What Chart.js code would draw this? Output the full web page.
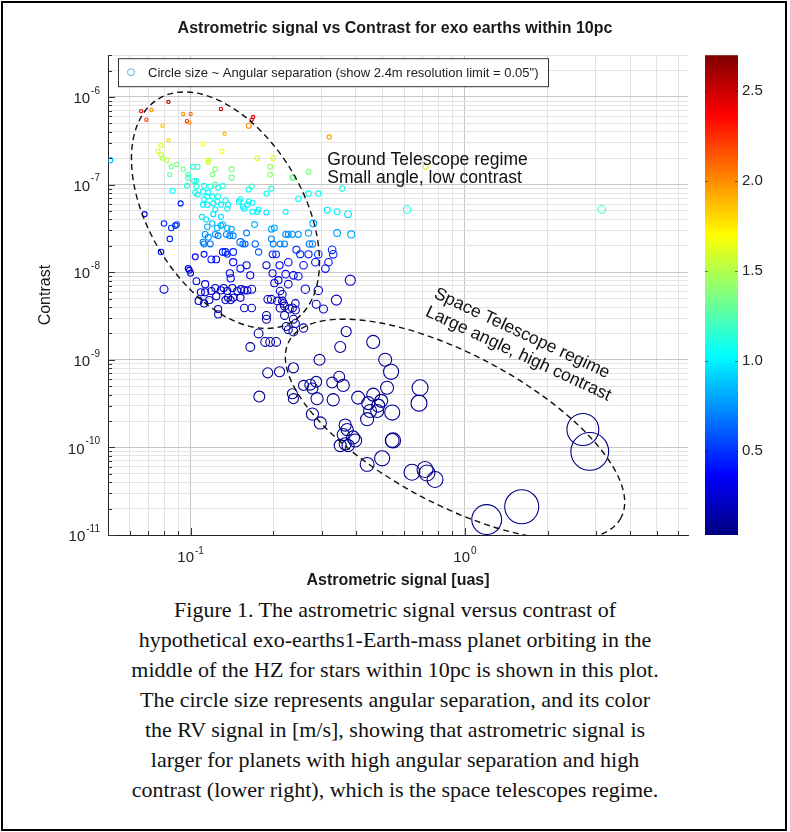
<!DOCTYPE html>
<html>
<head>
<meta charset="utf-8">
<script src="https://cdn.jsdelivr.net/npm/chart.js@4"></script>
<style>
  body { margin: 0; background: #fff; }
  #wrap { position: relative; width: 790px; height: 832px; }
  #plot { position: absolute; left: 0; top: 0; }
  #caption { position: absolute; left: 0; top: 595px; width: 790px; text-align: center;
    font: 22px "Liberation Serif", "Times New Roman", serif; line-height: 30px; color: #111; }
  #frame { position: absolute; left: 1px; top: 1px; width: 782px; height: 826px;
    border: 2px solid #000; pointer-events: none; }
</style>
</head>
<body>
<div id="wrap">
  <canvas id="plot" width="790" height="595"></canvas>
  <div id="caption">Figure 1. The astrometric signal versus contrast of<br>hypothetical exo-earths1-Earth-mass planet orbiting in the<br>middle of the HZ for stars within 10pc is shown in this plot.<br>The circle size represents angular separation, and its color<br>the RV signal in [m/s], showing that astrometric signal is<br>larger for planets with high angular separation and high<br>contrast (lower right), which is the space telescopes regime.</div>
  <div id="frame"></div>
</div>
<script>
// one entry per exo-earth: astrometric signal [uas], contrast, RV signal [m/s], angular separation [arcsec]
var signal = [
  0.066, 0.069, 0.072, 0.083, 0.094, 0.100, 0.097, 0.099, 0.129, 0.169, 0.167, 0.163, 0.133, 0.079, 0.083, 0.32,
  0.111, 0.078, 0.076, 0.078, 0.130, 0.079, 0.082, 0.116, 0.116, 0.175, 0.200, 0.195, 0.195, 0.085, 0.089, 0.094, 0.084, 0.098, 0.120, 0.123, 0.141, 0.141, 0.235, 0.269, 0.72, 0.051,
  0.102, 0.106, 0.098, 0.103, 0.105, 0.097, 0.105, 0.112, 0.118, 0.123,
  0.126, 0.131, 0.167, 0.163, 0.197, 0.189, 0.086, 0.104, 0.111, 0.116,
  0.106, 0.115, 0.120, 0.126, 0.152, 0.163, 0.112, 0.111, 0.115, 0.121,
  0.125, 0.129, 0.134, 0.137, 0.136, 0.150, 0.155, 0.161, 0.168, 0.175,
  0.189, 0.110, 0.114, 0.121, 0.123, 0.157, 0.168, 0.177,
  0.237, 0.247, 0.269, 0.292, 0.357, 0.222, 0.315, 0.342, 0.375, 0.615, 3.15,
  0.092, 0.068, 0.080, 0.085, 0.088, 0.089, 0.084, 0.078, 0.115, 0.120,
  0.125, 0.129, 0.131, 0.136, 0.141, 0.129, 0.171, 0.197, 0.202,
  0.113, 0.116, 0.123, 0.126, 0.135, 0.139, 0.143, 0.111, 0.112, 0.118,
  0.152, 0.155, 0.158, 0.160, 0.172, 0.177, 0.197, 0.200, 0.212, 0.220,
  0.222, 0.227, 0.235, 0.247, 0.269, 0.280, 0.271, 0.278, 0.342, 0.385,
  0.131, 0.134, 0.136, 0.143, 0.104, 0.112, 0.119, 0.124, 0.143, 0.152,
  0.160, 0.098, 0.099, 0.100, 0.139, 0.140, 0.165, 0.105, 0.113, 0.080,
  0.123, 0.129, 0.132, 0.136, 0.142, 0.148, 0.153, 0.157, 0.161, 0.167,
  0.109, 0.113, 0.119, 0.107, 0.112, 0.117, 0.124, 0.134, 0.137, 0.140,
  0.143, 0.152, 0.157, 0.167, 0.126, 0.126, 0.189, 0.189, 0.197, 0.189,
  0.199, 0.202, 0.209, 0.211, 0.227, 0.243, 0.251, 0.258, 0.269, 0.285,
  0.292, 0.318, 0.310, 0.328, 0.331, 0.199, 0.205, 0.222, 0.237, 0.247,
  0.227, 0.382, 0.212, 0.216, 0.262, 0.292, 0.191, 0.207, 0.216, 0.218,
  0.241, 0.287, 0.340, 0.305, 0.212, 0.220, 0.229, 0.235, 0.241, 0.220,
  0.237, 0.241, 0.223, 0.227, 0.258,
  0.237, 0.177, 0.187, 0.195, 0.205, 0.165, 0.369, 0.463, 0.351, 0.295,
  0.512, 0.538, 0.237, 0.211, 0.191, 0.178, 0.235, 0.237, 0.258, 0.273,
  0.278, 0.287, 0.289, 0.328, 0.348, 0.360, 0.331, 0.408, 0.444, 0.463,
  0.483, 0.495, 0.451, 0.440, 0.479, 0.520, 0.543, 0.686, 0.680, 0.278,
  0.297, 0.366, 0.372, 0.360, 0.391, 0.398, 0.351, 0.366, 0.375, 0.547,
  0.543, 0.499, 0.440, 0.641, 0.715, 0.727, 0.778, 2.69, 2.85, 1.61,
  1.20
];
var contrast = [
  6.9e-7, 5.5e-7, 7.1e-7, 8.8e-7, 6.4e-7, 6.4e-7, 5.3e-7, 5.1e-7, 7.3e-7, 5.9e-7, 5.5e-7, 4.7e-7, 3.8e-7, 4.7e-7, 3.2e-7, 3.5e-7,
  2.9e-7, 2.8e-7, 2.4e-7, 2.2e-7, 2.4e-7, 2.0e-7, 1.9e-7, 1.9e-7, 1.8e-7, 2.0e-7, 2.0e-7, 1.6e-7, 1.3e-7, 1.6e-7, 1.7e-7, 1.5e-7, 1.3e-7, 1.3e-7, 1.3e-7, 1.5e-7, 1.5e-7, 1.2e-7, 1.2e-7, 1.4e-7, 1.6e-7, 1.9e-7,
  1.6e-7, 1.6e-7, 1.2e-7, 1.1e-7, 1.1e-7, 9.7e-8, 9.5e-8, 9.7e-8, 9.5e-8, 1.0e-7,
  9.2e-8, 9.7e-8, 9.5e-8, 8.8e-8, 9.0e-8, 7.9e-8, 8.5e-8, 8.1e-8, 8.3e-8, 8.1e-8,
  7.7e-8, 7.3e-8, 7.3e-8, 7.3e-8, 6.8e-8, 6.4e-8, 6.8e-8, 5.9e-8, 5.9e-8, 6.1e-8,
  6.4e-8, 5.9e-8, 6.6e-8, 5.9e-8, 5.3e-8, 6.4e-8, 5.6e-8, 5.9e-8, 6.2e-8, 4.9e-8,
  4.8e-8, 4.3e-8, 4.0e-8, 4.6e-8, 5.2e-8, 5.3e-8, 4.9e-8, 5.2e-8,
  1.2e-7, 6.9e-8, 7.9e-8, 7.9e-8, 9.0e-8, 4.9e-8, 5.1e-8, 4.9e-8, 4.6e-8, 5.2e-8, 5.2e-8,
  6.1e-8, 4.6e-8, 3.6e-8, 3.2e-8, 3.4e-8, 3.5e-8, 2.4e-8, 1.7e-8, 3.3e-8, 3.6e-8,
  3.2e-8, 3.4e-8, 3.5e-8, 3.2e-8, 3.1e-8, 4.3e-8, 3.5e-8, 3.1e-8, 3.2e-8,
  2.7e-8, 2.5e-8, 2.7e-8, 2.6e-8, 2.7e-8, 2.6e-8, 2.6e-8, 2.2e-8, 2.1e-8, 2.1e-8,
  2.2e-8, 2.1e-8, 2.1e-8, 2.8e-8, 2.1e-8, 1.7e-8, 2.4e-8, 2.1e-8, 2.1e-8, 2.1e-8,
  2.7e-8, 2.7e-8, 2.7e-8, 2.7e-8, 2.8e-8, 3.6e-8, 2.1e-8, 2.1e-8, 2.8e-8, 2.7e-8,
  1.7e-8, 1.7e-8, 1.6e-8, 1.7e-8, 1.5e-8, 1.6e-8, 1.4e-8, 1.4e-8, 1.3e-8, 1.1e-8,
  1.2e-8, 1.1e-8, 1.05e-8, 9.7e-9, 9.7e-9, 8.5e-9, 9.2e-9, 7.9e-9, 7.3e-9, 6.4e-9,
  6.6e-9, 6.2e-9, 6.6e-9, 6.1e-9, 6.6e-9, 6.1e-9, 6.4e-9, 6.2e-9, 6.2e-9, 6.4e-9,
  5.9e-9, 5.9e-9, 6.1e-9, 4.7e-9, 4.4e-9, 4.8e-9, 5.3e-9, 4.8e-9, 5.1e-9, 4.8e-9,
  5.1e-9, 5.1e-9, 3.9e-9, 3.9e-9, 3.8e-9, 3.3e-9, 3.2e-9, 2.9e-9, 4.9e-9, 1.2e-8,
  9.7e-9, 7.5e-9, 8.1e-9, 1.2e-8, 1.3e-8, 1.8e-8, 1.6e-8, 1.2e-8, 1.6e-8, 1.3e-8,
  1.6e-8, 1.3e-8, 1.1e-8, 1.8e-8, 1.6e-8, 1.6e-8, 1.6e-8, 9.5e-9, 9.2e-9, 9.0e-9,
  7.3e-9, 8.1e-9, 6.1e-9, 5.6e-9, 6.4e-9, 6.2e-9, 4.9e-9, 4.7e-9, 4.7e-9, 4.4e-9,
  4.4e-9, 4.3e-9, 4.8e-9, 3.8e-9, 3.9e-9, 4.1e-9, 3.8e-9, 3.9e-9, 3.7e-9, 3.2e-9,
  2.9e-9, 2.6e-9, 2.4e-9, 2.2e-9, 2.3e-9,
  2.1e-9, 2.0e-9, 1.6e-9, 1.6e-9, 1.6e-9, 1.4e-9, 2.1e-9, 1.6e-9, 1.4e-9, 1.0e-9,
  1.0e-9, 7.3e-10, 8.1e-10, 7.3e-10, 7.1e-10, 3.8e-10, 4.1e-10, 3.6e-10, 5.1e-10, 5.2e-10,
  4.7e-10, 5.6e-10, 3.6e-10, 5.5e-10, 6.4e-10, 5.1e-10, 3.5e-10, 3.7e-10, 3.2e-10, 4.0e-10,
  3.0e-10, 3.4e-10, 2.6e-10, 2.1e-10, 2.6e-10, 4.8e-10, 2.5e-10, 4.8e-10, 3.2e-10, 2.4e-10,
  1.9e-10, 1.8e-10, 1.6e-10, 1.4e-10, 1.3e-10, 1.2e-10, 1.05e-10, 1.1e-10, 1.05e-10, 1.2e-10,
  1.2e-10, 7.5e-11, 6.4e-11, 5.2e-11, 5.6e-11, 5.1e-11, 4.3e-11, 1.6e-10, 9.0e-11, 2.1e-11,
  1.5e-11
];
var rvSignal = [
  2.4, 2.2, 2.0, 2.6, 2.0, 2.1, 2.3, 2.0, 2.5, 2.4, 2.5, 2.0, 1.9, 1.85, 1.8, 1.95,
  1.7, 1.65, 1.6, 1.55, 1.7, 1.5, 1.5, 1.6, 1.55, 1.6, 1.6, 1.45, 1.4, 1.35, 1.35, 1.3, 1.3, 1.2, 1.35, 1.4, 1.35, 1.3, 1.35, 1.35, 1.55, 0.85,
  1.15, 1.15, 1.2, 1.15, 1.1, 1.1, 1.1, 1.1, 1.1, 1.25,
  1.1, 1.1, 1.15, 1.1, 1.1, 1.05, 1.05, 1.05, 1.05, 1.05,
  1.05, 1.05, 1.05, 1.1, 1.05, 1.05, 1.05, 1.0, 1.0, 1.0,
  1.05, 1.0, 1.05, 1.0, 1.0, 1.0, 1.0, 1.0, 1.0, 1.0,
  0.95, 0.95, 0.95, 0.95, 1.0, 1.0, 1.0, 1.0,
  1.3, 1.05, 1.05, 1.05, 1.1, 1.0, 1.0, 1.0, 0.95, 1.1, 1.2,
  0.45, 0.35, 0.45, 0.5, 0.5, 0.5, 0.45, 0.4, 0.85, 0.85,
  0.85, 0.85, 0.85, 0.85, 0.8, 0.95, 0.85, 0.8, 0.8,
  0.75, 0.75, 0.75, 0.7, 0.75, 0.7, 0.7, 0.7, 0.7, 0.65,
  0.65, 0.65, 0.65, 0.7, 0.6, 0.6, 0.7, 0.7, 0.7, 0.7,
  0.75, 0.75, 0.75, 0.75, 0.8, 0.8, 0.7, 0.7, 0.8, 0.8,
  0.45, 0.45, 0.45, 0.45, 0.35, 0.4, 0.4, 0.35, 0.35, 0.35,
  0.35, 0.3, 0.3, 0.3, 0.3, 0.3, 0.3, 0.3, 0.25, 0.25,
  0.25, 0.25, 0.25, 0.25, 0.25, 0.25, 0.25, 0.25, 0.25, 0.25,
  0.25, 0.25, 0.25, 0.2, 0.2, 0.2, 0.2, 0.2, 0.2, 0.2,
  0.2, 0.2, 0.2, 0.2, 0.2, 0.2, 0.15, 0.15, 0.2, 0.3,
  0.3, 0.25, 0.25, 0.3, 0.35, 0.45, 0.45, 0.35, 0.45, 0.35,
  0.5, 0.35, 0.35, 0.45, 0.45, 0.45, 0.45, 0.3, 0.3, 0.3,
  0.25, 0.25, 0.25, 0.25, 0.25, 0.25, 0.2, 0.2, 0.2, 0.2,
  0.2, 0.2, 0.2, 0.2, 0.15, 0.15, 0.15, 0.15, 0.15, 0.15,
  0.15, 0.15, 0.15, 0.15, 0.15,
  0.12, 0.12, 0.12, 0.12, 0.12, 0.1, 0.1, 0.1, 0.1, 0.1,
  0.1, 0.08, 0.1, 0.1, 0.1, 0.08, 0.1, 0.1, 0.1, 0.1,
  0.1, 0.1, 0.1, 0.1, 0.1, 0.1, 0.1, 0.08, 0.08, 0.08,
  0.08, 0.08, 0.08, 0.08, 0.08, 0.08, 0.08, 0.06, 0.06, 0.08,
  0.08, 0.08, 0.08, 0.08, 0.08, 0.08, 0.08, 0.08, 0.08, 0.06,
  0.06, 0.06, 0.06, 0.05, 0.05, 0.05, 0.05, 0.04, 0.04, 0.04,
  0.04
];
var angSep = [
  0.08, 0.08, 0.08, 0.08, 0.08, 0.08, 0.08, 0.08, 0.08, 0.08, 0.08, 0.12, 0.08, 0.08, 0.08, 0.10,
  0.10, 0.10, 0.10, 0.10, 0.10, 0.10, 0.10, 0.10, 0.10, 0.11, 0.11, 0.11, 0.11, 0.10, 0.10, 0.10, 0.10, 0.11, 0.11, 0.11, 0.12, 0.12, 0.12, 0.12, 0.12, 0.12,
  0.12, 0.12, 0.12, 0.12, 0.12, 0.12, 0.12, 0.12, 0.12, 0.12,
  0.12, 0.12, 0.12, 0.12, 0.12, 0.12, 0.12, 0.12, 0.12, 0.12,
  0.12, 0.12, 0.12, 0.12, 0.12, 0.12, 0.12, 0.12, 0.12, 0.12,
  0.12, 0.12, 0.12, 0.12, 0.12, 0.12, 0.12, 0.12, 0.12, 0.12,
  0.12, 0.12, 0.12, 0.12, 0.12, 0.12, 0.12, 0.12,
  0.12, 0.13, 0.13, 0.13, 0.13, 0.12, 0.14, 0.14, 0.16, 0.18, 0.18,
  0.12, 0.12, 0.13, 0.13, 0.13, 0.13, 0.13, 0.13, 0.13, 0.13,
  0.13, 0.13, 0.13, 0.13, 0.13, 0.12, 0.14, 0.14, 0.14,
  0.14, 0.14, 0.14, 0.14, 0.14, 0.14, 0.14, 0.14, 0.14, 0.14,
  0.17, 0.14, 0.14, 0.14, 0.15, 0.15, 0.14, 0.14, 0.14, 0.14,
  0.14, 0.14, 0.14, 0.14, 0.15, 0.16, 0.15, 0.15, 0.16, 0.17,
  0.16, 0.16, 0.14, 0.16, 0.14, 0.14, 0.16, 0.16, 0.17, 0.17,
  0.17, 0.14, 0.14, 0.14, 0.17, 0.17, 0.17, 0.16, 0.17, 0.19,
  0.17, 0.17, 0.17, 0.17, 0.17, 0.17, 0.17, 0.17, 0.17, 0.19,
  0.17, 0.17, 0.17, 0.17, 0.17, 0.17, 0.17, 0.17, 0.17, 0.17,
  0.17, 0.17, 0.18, 0.18, 0.17, 0.17, 0.19, 0.19, 0.19, 0.17,
  0.17, 0.17, 0.17, 0.17, 0.18, 0.17, 0.17, 0.18, 0.17, 0.18,
  0.18, 0.18, 0.18, 0.18, 0.18, 0.16, 0.16, 0.18, 0.18, 0.18,
  0.18, 0.24, 0.18, 0.18, 0.20, 0.20, 0.18, 0.18, 0.18, 0.18,
  0.18, 0.19, 0.24, 0.19, 0.19, 0.19, 0.19, 0.19, 0.19, 0.19,
  0.19, 0.19, 0.19, 0.19, 0.20,
  0.21, 0.21, 0.21, 0.21, 0.21, 0.21, 0.24, 0.31, 0.26, 0.26,
  0.31, 0.36, 0.24, 0.24, 0.24, 0.26, 0.24, 0.24, 0.24, 0.26,
  0.26, 0.26, 0.29, 0.26, 0.26, 0.29, 0.29, 0.31, 0.31, 0.31,
  0.31, 0.31, 0.31, 0.31, 0.31, 0.31, 0.36, 0.38, 0.38, 0.29,
  0.29, 0.29, 0.29, 0.29, 0.31, 0.31, 0.29, 0.29, 0.29, 0.36,
  0.33, 0.36, 0.33, 0.38, 0.38, 0.38, 0.38, 0.76, 0.90, 0.81,
  0.71
];

// axes and colour bar
var xMin = 0.05, xMax = 6.5;
var yMin = 1e-11, yMax = 3e-6;
var cMin = 0.03, cMax = 2.7;
var cbTicks = [0.5, 1, 1.5, 2, 2.5];

// dashed regime outlines (centre in data units, radii in px) and their notes
var regimes = [
  {x: 0.134, y: 5.1e-8, rx: 130, ry: 77, angle: 59},
  {x: 0.92, y: 1.6e-10, rx: 188, ry: 75, angle: 28}
];
var notes = [
  {x: 0.315, y: 1.9e-7, angle: 0, gap: 18, lines: ['Ground Telescope regime', 'Small angle, low contrast']},
  {x: 0.778, y: 5.8e-9, angle: 25, gap: 20, lines: ['Space Telescope regime', 'Large angle, high contrast']}
];
var legendText = 'Circle size ~ Angular separation (show 2.4m resolution limit = 0.05")';

var sans = '"Liberation Sans", Arial, Helvetica, sans-serif';
Chart.defaults.font.family = sans;
Chart.defaults.color = '#222';

function jet(v) {
  var t = Math.min(1, Math.max(0, (v - cMin) / (cMax - cMin)));
  var f = function (k) { return Math.round(255 * Math.min(1, Math.max(0, 1.5 - Math.abs(4 * t - k)))); };
  return 'rgb(' + f(3) + ',' + f(2) + ',' + f(1) + ')';
}

// 1..9 per decade, decade ticks flagged major
function logTicks(min, max) {
  var out = [];
  for (var e = Math.floor(Math.log10(min)); e <= Math.ceil(Math.log10(max)); e++) {
    for (var k = 1; k < 10; k++) {
      var v = k * Math.pow(10, e);
      if (v >= min * 0.999 && v <= max * 1.001) out.push({value: v, major: k === 1});
    }
  }
  return out;
}

var gridColor = function (c) { return c.tick && c.tick.major ? '#c6c6c6' : '#e3e3e3'; };

var extras = {
  id: 'extras',
  afterDatasetsDraw: function (chart) {
    var ctx = chart.ctx, xs = chart.scales.x, ys = chart.scales.y, ca = chart.chartArea;
    ctx.save();
    ctx.beginPath();
    ctx.rect(ca.left, ca.top, ca.right - ca.left, ca.bottom - ca.top);
    ctx.clip();
    ctx.strokeStyle = '#111';
    ctx.lineWidth = 1.4;
    ctx.setLineDash([6, 4]);
    regimes.forEach(function (r) {
      ctx.beginPath();
      ctx.ellipse(xs.getPixelForValue(r.x), ys.getPixelForValue(r.y), r.rx, r.ry, r.angle * Math.PI / 180, 0, 2 * Math.PI);
      ctx.stroke();
    });
    ctx.setLineDash([]);

    ctx.fillStyle = '#111';
    ctx.font = '17.5px ' + sans;
    ctx.textBaseline = 'middle';
    ctx.textAlign = 'left';
    notes.forEach(function (n) {
      ctx.save();
      ctx.translate(xs.getPixelForValue(n.x), ys.getPixelForValue(n.y));
      ctx.rotate(n.angle * Math.PI / 180);
      n.lines.forEach(function (t, i) { ctx.fillText(t, 0, i * n.gap); });
      ctx.restore();
    });

    // legend box inside the axes
    var bx = ca.left + 10, by = ca.top + 3, bw = 430, bh = 28;
    ctx.fillStyle = '#fff';
    ctx.fillRect(bx, by, bw, bh);
    ctx.strokeStyle = '#333';
    ctx.lineWidth = 1;
    ctx.strokeRect(bx + 0.5, by + 0.5, bw, bh);
    ctx.beginPath();
    ctx.arc(bx + 13, by + bh / 2, 3.5, 0, 2 * Math.PI);
    ctx.strokeStyle = '#5ab4d6';
    ctx.stroke();
    ctx.fillStyle = '#222';
    ctx.font = '13px ' + sans;
    ctx.fillText(legendText, bx + 30, by + bh / 2 + 1);
    ctx.restore();
  },
  afterDraw: function (chart) {
    var ctx = chart.ctx, xs = chart.scales.x, ys = chart.scales.y, cb = chart.scales.cb, ca = chart.chartArea;
    ctx.save();
    // inward tick marks
    ctx.strokeStyle = '#333';
    ctx.lineWidth = 1;
    ys.ticks.forEach(function (t) {
      var y = Math.round(ys.getPixelForValue(t.value)) + 0.5;
      ctx.beginPath(); ctx.moveTo(ca.left, y); ctx.lineTo(ca.left + (t.major ? 7 : 4), y); ctx.stroke();
    });
    xs.ticks.forEach(function (t) {
      var x = Math.round(xs.getPixelForValue(t.value)) + 0.5;
      ctx.beginPath(); ctx.moveTo(x, ca.bottom); ctx.lineTo(x, ca.bottom - (t.major ? 7 : 4)); ctx.stroke();
    });

    // power-of-ten labels with raised exponent
    ctx.fillStyle = '#222';
    ctx.textBaseline = 'middle';
    ctx.textAlign = 'left';
    ys.ticks.filter(function (t) { return t.major; }).forEach(function (t) {
      var y = ys.getPixelForValue(t.value), e = String(Math.round(Math.log10(t.value)));
      ctx.font = '10px ' + sans;
      var we = ctx.measureText(e).width;
      var right = ca.left - 8;
      ctx.fillText(e, right - we, y - 6);
      ctx.font = '15px ' + sans;
      ctx.fillText('10', right - we - ctx.measureText('10').width - 1, y + 2);
    });
    xs.ticks.filter(function (t) { return t.major; }).forEach(function (t) {
      var x = xs.getPixelForValue(t.value), e = String(Math.round(Math.log10(t.value)));
      ctx.font = '10px ' + sans;
      var we = ctx.measureText(e).width;
      ctx.font = '15px ' + sans;
      var w10 = ctx.measureText('10').width;
      var x0 = x - (w10 + we + 1) / 2;
      ctx.fillText('10', x0, ca.bottom + 23);
      ctx.font = '10px ' + sans;
      ctx.fillText(e, x0 + w10 + 1, ca.bottom + 16);
    });

    // colour bar
    var bx = cb.left + 17, bw = 33;
    var g = ctx.createLinearGradient(0, cb.bottom, 0, cb.top);
    for (var i = 0; i <= 40; i++) g.addColorStop(i / 40, jet(cMin + (cMax - cMin) * i / 40));
    ctx.fillStyle = g;
    ctx.fillRect(bx, cb.top, bw, cb.bottom - cb.top);
    ctx.strokeStyle = 'rgba(0,0,0,0.45)';
    cbTicks.forEach(function (v) {
      var y = Math.round(cb.getPixelForValue(v)) + 0.5;
      ctx.beginPath(); ctx.moveTo(bx, y); ctx.lineTo(bx + 3, y); ctx.stroke();
      ctx.beginPath(); ctx.moveTo(bx + bw - 3, y); ctx.lineTo(bx + bw, y); ctx.stroke();
    });
    ctx.restore();
  }
};

var points = signal.map(function (s, i) { return {x: s, y: contrast[i]}; });

new Chart(document.getElementById('plot'), {
  type: 'scatter',
  data: {
    datasets: [{
      data: points,
      pointRadius: function (c) { return c.dataIndex === undefined ? 3 : Math.max(1.5, angSep[c.dataIndex] * 21); },
      pointBorderColor: function (c) { return c.dataIndex === undefined ? '#000' : jet(rvSignal[c.dataIndex]); },
      pointBackgroundColor: 'rgba(0,0,0,0)',
      pointBorderWidth: 1.1
    }]
  },
  options: {
    responsive: false,
    animation: false,
    devicePixelRatio: 1,
    events: [],
    layout: {padding: 0},
    plugins: {
      legend: {display: false},
      tooltip: {enabled: false},
      title: {
        display: true,
        text: 'Astrometric signal vs Contrast for exo earths within 10pc',
        color: '#1a1a1a',
        font: {size: 16, weight: 'bold'},
        padding: {top: 19, bottom: 17}
      }
    },
    scales: {
      x: {
        type: 'logarithmic',
        position: 'bottom',
        min: xMin,
        max: xMax,
        afterBuildTicks: function (s) { s.ticks = logTicks(xMin, xMax); },
        afterFit: function (s) { s.height = 60; },
        ticks: {autoSkip: false, maxRotation: 0, callback: function () { return ''; }},
        grid: {color: gridColor, drawTicks: false},
        border: {display: true, color: '#222', width: 1},
        title: {display: true, text: 'Astrometric signal [uas]', color: '#1a1a1a',
          font: {size: 16, weight: 'bold'}, padding: {top: 0, bottom: 5}}
      },
      y: {
        type: 'logarithmic',
        position: 'left',
        min: yMin,
        max: yMax,
        afterBuildTicks: function (s) { s.ticks = logTicks(yMin, yMax); },
        afterFit: function (s) { s.width = 108; },
        ticks: {autoSkip: false, callback: function () { return ''; }},
        grid: {color: gridColor, drawTicks: false},
        border: {display: true, color: '#222', width: 1},
        title: {display: true, text: 'Contrast', color: '#1a1a1a', font: {size: 16}, padding: {top: 36, bottom: 0}}
      },
      cb: {
        type: 'linear',
        axis: 'y',
        position: 'right',
        min: cMin,
        max: cMax,
        afterBuildTicks: function (s) { s.ticks = cbTicks.map(function (v) { return {value: v}; }); },
        afterFit: function (s) { s.width = 102; },
        ticks: {padding: 4, color: '#222', font: {size: 15}},
        grid: {display: false, drawTicks: true, tickLength: 50},
        border: {display: false}
      }
    }
  },
  plugins: [extras]
});
</script>
</body>
</html>
